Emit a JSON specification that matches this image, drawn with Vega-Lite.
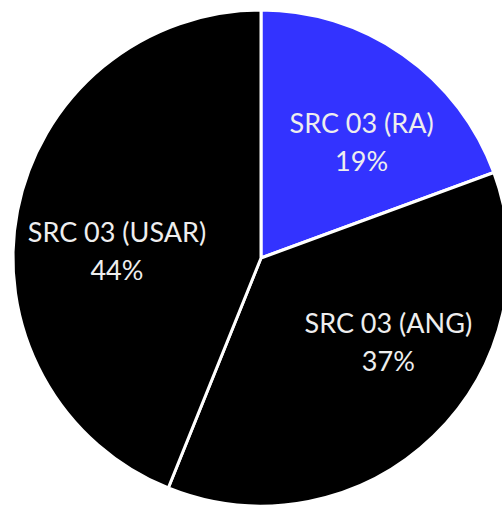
{
  "$schema": "https://vega.github.io/schema/vega-lite/v6.json",
  "width": 482,
  "height": 500,
  "padding": {"left": 20, "top": 8, "right": 0, "bottom": 0},
  "autosize": "none",
  "background": "white",
  "view": {"stroke": null},
  "data": {
    "values": [
      {"category": "SRC 03 (RA)", "value": 19.4, "rank": 1, "label": "SRC 03 (RA)\n19%"},
      {"category": "SRC 03 (ANG)", "value": 36.7, "rank": 2, "label": "SRC 03 (ANG)\n37%"},
      {"category": "SRC 03 (USAR)", "value": 43.9, "rank": 3, "label": "SRC 03 (USAR)\n44%"}
    ]
  },
  "encoding": {
    "theta": {"field": "value", "type": "quantitative", "stack": true},
    "order": {"field": "rank", "type": "quantitative"}
  },
  "layer": [
    {
      "mark": {"type": "arc", "outerRadius": 248, "stroke": "white", "strokeWidth": 3},
      "encoding": {
        "color": {
          "field": "category",
          "type": "nominal",
          "scale": {"domain": ["SRC 03 (RA)", "SRC 03 (ANG)", "SRC 03 (USAR)"], "range": ["#3333ff", "#000000", "#000000"]},
          "legend": null
        }
      }
    },
    {
      "mark": {
        "type": "text",
        "radius": 160,
        "font": "Lato",
        "fontSize": 27,
        "lineHeight": 38,
        "lineBreak": "\n",
        "fill": "#eeeeee",
        "align": "center",
        "baseline": "middle",
        "dx": {"expr": "datum.category == 'SRC 03 (RA)' ? 9 : datum.category == 'SRC 03 (ANG)' ? 16 : 13"},
        "dy": {"expr": "datum.category == 'SRC 03 (RA)' ? -2 : datum.category == 'SRC 03 (ANG)' ? -48 : 6"}
      },
      "encoding": {
        "text": {"field": "label", "type": "nominal"}
      }
    }
  ]
}
